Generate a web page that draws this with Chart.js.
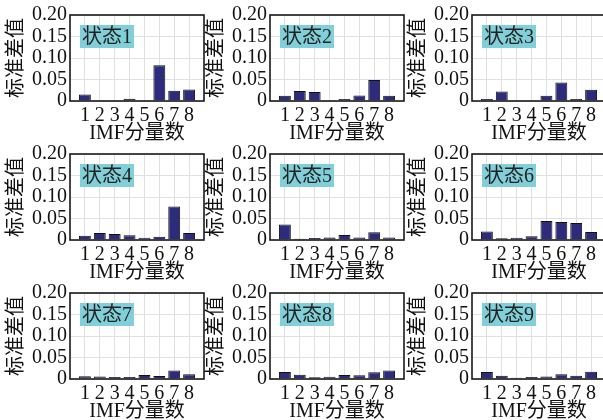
<!DOCTYPE html>
<html>
<head>
<meta charset="utf-8">
<script src="https://cdn.jsdelivr.net/npm/chart.js@4.4.1/dist/chart.umd.min.js"></script>
<style>
  html, body { margin:0; padding:0; background:#fff; width:603px; height:420px; overflow:hidden; position:relative; }
  .cell { position:absolute; }
</style>
</head>
<body>
<script>
// ---- data ----
const imfIndex = [1, 2, 3, 4, 5, 6, 7, 8];
const yTickValues = [0, 0.05, 0.10, 0.15, 0.20];
const stateNames = ['状态1','状态2','状态3','状态4','状态5','状态6','状态7','状态8','状态9'];
const state1 = [0.015, 0.002, 0.002, 0.005, 0.002, 0.083, 0.024, 0.027];
const state2 = [0.012, 0.023, 0.021, 0.0015, 0.0045, 0.013, 0.049, 0.012];
const state3 = [0.0045, 0.022, 0.0005, 0.0015, 0.012, 0.043, 0.0045, 0.026];
const state4 = [0.010, 0.016, 0.014, 0.011, 0.0054, 0.0078, 0.078, 0.016];
const state5 = [0.036, 0.003, 0.0047, 0.006, 0.0116, 0.006, 0.018, 0.006];
const state6 = [0.020, 0.004, 0.0054, 0.0085, 0.044, 0.042, 0.0395, 0.0186];
const state7 = [0.0062, 0.006, 0.0047, 0.0047, 0.0093, 0.007, 0.020, 0.011];
const state8 = [0.016, 0.010, 0.004, 0.0054, 0.0093, 0.0085, 0.0155, 0.020];
const state9 = [0.016, 0.0078, 0.003, 0.0047, 0.006, 0.011, 0.0078, 0.017];
const allStates = [state1, state2, state3, state4, state5, state6, state7, state8, state9];
const xTitle = 'IMF分量数';
const yTitle = '标准差值';

// ---- layout / style ----
const colX = [0, 200, 402];
const rowY = [0, 139, 278];
const CELL_W = 205, CELL_H = 146;
const FONT = "'Liberation Serif', 'Noto Sans CJK SC', serif";

const framePlugin = {
  id: 'frame',
  afterDatasetsDraw(chart) {
    const a = chart.chartArea, ctx = chart.ctx;
    ctx.save();
    ctx.strokeStyle = '#1a1a1a';
    ctx.lineWidth = 1.6;
    ctx.strokeRect(a.left, a.top, a.right - a.left, a.bottom - a.top);
    ctx.restore();
  },
  afterDraw(chart, args, opts) {
    const a = chart.chartArea, ctx = chart.ctx;
    ctx.save();
    ctx.font = "20px " + FONT;
    const w = ctx.measureText(opts.text).width + 4;
    const x = a.left + 10, y = a.top + 10, h = 23;
    ctx.fillStyle = '#80cfd9';
    ctx.fillRect(x, y, w, h);
    ctx.fillStyle = '#222';
    ctx.textBaseline = 'middle';
    ctx.textAlign = 'left';
    ctx.fillText(opts.text, x + 2, y + h / 2 + 1);
    ctx.restore();
  }
};

allStates.forEach((vals, i) => {
  const r = Math.floor(i / 3), c = i % 3;
  const div = document.createElement('div');
  div.className = 'cell';
  div.style.left = colX[c] + 'px';
  div.style.top = rowY[r] + 'px';
  div.style.width = CELL_W + 'px';
  div.style.height = CELL_H + 'px';
  const cv = document.createElement('canvas');
  cv.width = CELL_W; cv.height = CELL_H;
  cv.style.width = CELL_W + 'px'; cv.style.height = CELL_H + 'px';
  div.appendChild(cv);
  document.body.appendChild(div);

  new Chart(cv, {
    type: 'bar',
    data: {
      datasets: [{
        data: imfIndex.map((x, k) => ({ x: x, y: vals[k] })),
        backgroundColor: '#2d2b7b',
        borderColor: '#111',
        borderWidth: 1,
        barPercentage: 0.8,
        categoryPercentage: 1.0
      }]
    },
    options: {
      responsive: false,
      animation: false,
      devicePixelRatio: 1,
      layout: { padding: { top: 15, right: 1, left: 0, bottom: 0 } },
      plugins: {
        legend: { display: false },
        tooltip: { enabled: false },
        frame: { text: stateNames[i] }
      },
      scales: {
        x: {
          type: 'linear',
          offset: false,
          min: 0, max: 9,
          afterBuildTicks: s => { s.ticks = imfIndex.map(v => ({ value: v })); },
          afterFit: s => { s.height = 45; },
          grid: { color: '#e0e0e0', lineWidth: 1, drawTicks: false, offset: false },
          border: { display: false },
          ticks: { color: '#111', font: { family: FONT, size: 20 }, padding: 3, maxRotation: 0, autoSkip: false,
                   callback: v => String(v) },
          title: { display: true, text: xTitle, color: '#111', font: { family: FONT, size: 20 }, padding: { top: 0, bottom: 0 } }
        },
        y: {
          min: 0, max: 0.2,
          afterBuildTicks: s => { s.ticks = yTickValues.map(v => ({ value: v })); },
          afterFit: s => { s.width = 70; },
          grid: { color: '#e0e0e0', lineWidth: 1, drawTicks: false },
          border: { display: false },
          ticks: { color: '#111', font: { family: FONT, size: 20 }, padding: 3, autoSkip: false,
                   callback: v => (v === 0 ? '0' : v.toFixed(2)) },
          title: { display: true, text: yTitle, color: '#111', font: { family: FONT, size: 20 }, padding: { top: 5, bottom: 0 } }
        }
      }
    },
    plugins: [framePlugin]
  });
});
</script>
</body>
</html>
